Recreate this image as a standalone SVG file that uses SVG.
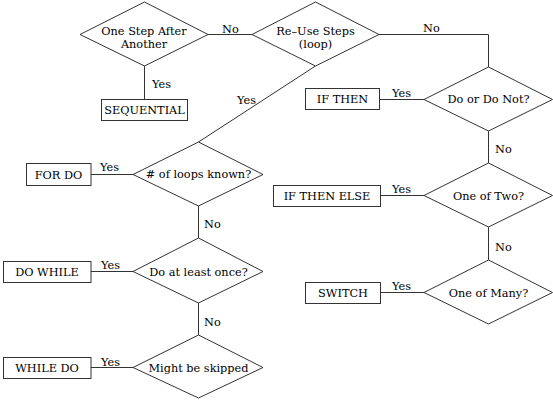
<svg xmlns="http://www.w3.org/2000/svg" width="553" height="403" viewBox="0 0 553 403">
<style>
.s{fill:#fff;stroke:#333;stroke-width:1}
.c{fill:none;stroke:#333;stroke-width:1}
text{font-family:'DejaVu Serif','Liberation Serif',serif;font-size:11.3px;fill:#000}
.m{text-anchor:middle}
</style>
<rect width="553" height="403" fill="#fff"/>
<g id="connectors">
<path class="c" d="M208 34.5H252"/>
<path class="c" d="M379 34.5H488.5V67"/>
<path class="c" d="M144.5 66V99"/>
<path class="c" d="M315.5 66L198.5 142"/>
<path class="c" d="M91 174.5H133"/>
<path class="c" d="M198.5 206V238"/>
<path class="c" d="M91 271.5H133"/>
<path class="c" d="M198.5 303V335"/>
<path class="c" d="M91 367.5H133"/>
<path class="c" d="M380 99.5H424"/>
<path class="c" d="M488.5 131V163"/>
<path class="c" d="M381 195.5H424"/>
<path class="c" d="M488.5 227V260"/>
<path class="c" d="M381 292.5H424"/>
<text x="222" y="33">No</text>
<text x="423" y="32">No</text>
<text x="152" y="88">Yes</text>
<text x="237" y="104">Yes</text>
<text x="100" y="171">Yes</text>
<text x="204" y="228">No</text>
<text x="101" y="269">Yes</text>
<text x="204" y="326">No</text>
<text x="101" y="366">Yes</text>
<text x="392" y="97">Yes</text>
<text x="495" y="153">No</text>
<text x="392" y="193">Yes</text>
<text x="495" y="251">No</text>
<text x="392" y="290">Yes</text>
</g>
<g id="d1"><polygon class="s" points="144.5,2 208,34.5 144.5,66 80,34.5"/><text class="m" x="144" y="35">One Step After</text><text class="m" x="144" y="48">Another</text></g>
<g id="d2"><polygon class="s" points="315.5,2 379,34.5 315.5,66 252,34.5"/><text class="m" x="315.5" y="35">Re–Use Steps</text><text class="m" x="315.5" y="48">(loop)</text></g>
<g id="seq"><rect class="s" x="101.5" y="99.5" width="86" height="21"/><text class="m" x="144.5" y="114">SEQUENTIAL</text></g>
<g id="d3"><polygon class="s" points="488.5,67 552.5,99.5 488.5,131 424,99.5"/><text class="m" x="488.5" y="103">Do or Do Not?</text></g>
<g id="ifthen"><rect class="s" x="305.5" y="88.5" width="74" height="21"/><text class="m" x="342.5" y="103">IF THEN</text></g>
<g id="d4"><polygon class="s" points="488.5,163 552.5,195.5 488.5,227 424,195.5"/><text class="m" x="488.5" y="200">One of Two?</text></g>
<g id="ifthenelse"><rect class="s" x="273.5" y="185.5" width="107" height="21"/><text class="m" x="327" y="200">IF THEN ELSE</text></g>
<g id="d5"><polygon class="s" points="488.5,260 552.5,292.5 488.5,324 424,292.5"/><text class="m" x="488.5" y="297">One of Many?</text></g>
<g id="switch"><rect class="s" x="305.5" y="282.5" width="75" height="21"/><text class="m" x="343" y="297">SWITCH</text></g>
<g id="d6"><polygon class="s" points="198.5,142 263,174.5 198.5,206 133,174.5"/><text class="m" x="198.5" y="178"># of loops known?</text></g>
<g id="fordo"><rect class="s" x="26.5" y="163.5" width="64.5" height="22"/><text class="m" x="58.5" y="179">FOR DO</text></g>
<g id="d7"><polygon class="s" points="198.5,238 263,271.5 198.5,303 133,271.5"/><text class="m" x="198.5" y="276">Do at least once?</text></g>
<g id="dowhile"><rect class="s" x="3.5" y="261.5" width="87.5" height="21"/><text class="m" x="47" y="276">DO WHILE</text></g>
<g id="d8"><polygon class="s" points="198.5,335 263,367.5 198.5,398 133,367.5"/><text class="m" x="198.5" y="372">Might be skipped</text></g>
<g id="whiledo"><rect class="s" x="3.5" y="357.5" width="87.5" height="21"/><text class="m" x="47" y="372">WHILE DO</text></g>
</svg>
